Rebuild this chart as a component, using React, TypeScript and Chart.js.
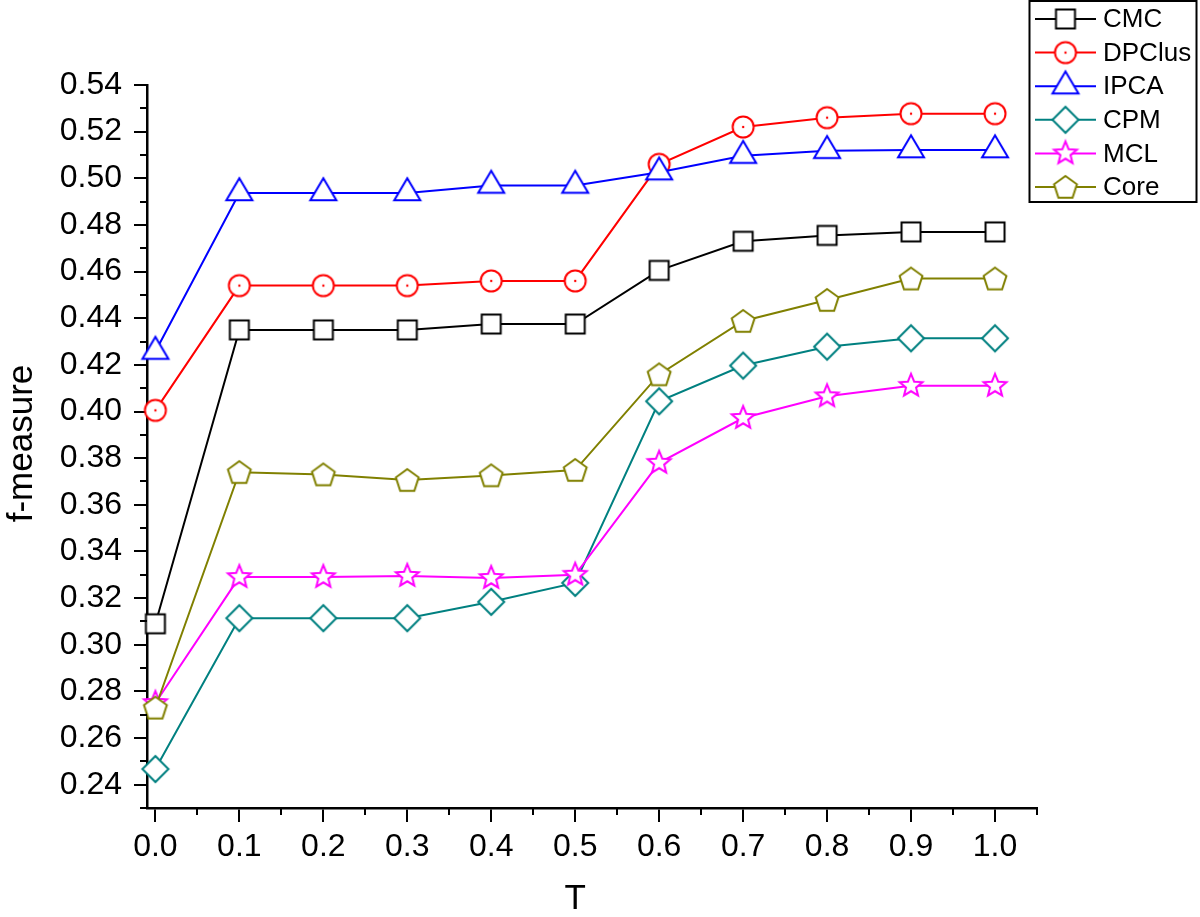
import React, { useEffect, useRef } from 'react';
import { Chart, registerables } from 'chart.js';

Chart.register(...registerables);

// ---- data ----
const tValues = [0.0, 0.1, 0.2, 0.3, 0.4, 0.5, 0.6, 0.7, 0.8, 0.9, 1.0];
const seriesNames = ['CMC', 'DPClus', 'IPCA', 'CPM', 'MCL', 'Core'];
const cmcValues = [0.309, 0.435, 0.435, 0.435, 0.4375, 0.4375, 0.4605, 0.473, 0.4755, 0.477, 0.477];
const dpclusValues = [0.4005, 0.454, 0.454, 0.454, 0.456, 0.456, 0.506, 0.522, 0.526, 0.5277, 0.5277];
const ipcaValues = [0.4257, 0.4937, 0.4937, 0.4937, 0.4969, 0.4969, 0.5026, 0.5097, 0.5118, 0.5121, 0.5121];
const cpmValues = [0.2467, 0.3114, 0.3114, 0.3114, 0.3184, 0.3265, 0.4044, 0.4197, 0.4278, 0.4314, 0.4314];
const mclValues = [0.275, 0.329, 0.329, 0.3295, 0.3286, 0.33, 0.378, 0.3972, 0.4065, 0.411, 0.411];
const coreValues = [0.273, 0.374, 0.373, 0.3706, 0.3726, 0.3749, 0.4159, 0.4388, 0.4478, 0.457, 0.457];
const xTickValues = [0.0, 0.1, 0.2, 0.3, 0.4, 0.5, 0.6, 0.7, 0.8, 0.9, 1.0];
const yTickValues = [0.24, 0.26, 0.28, 0.3, 0.32, 0.34, 0.36, 0.38, 0.4, 0.42, 0.44, 0.46, 0.48, 0.5, 0.52, 0.54];
const xMinorTicks = [0.05, 0.15, 0.25, 0.35, 0.45, 0.55, 0.65, 0.75, 0.85, 0.95, 1.05];
const yMinorTicks = [0.23, 0.25, 0.27, 0.29, 0.31, 0.33, 0.35, 0.37, 0.39, 0.41, 0.43, 0.45, 0.47, 0.49, 0.51, 0.53];
const xAxisTitle = 'T';
const yAxisTitle = 'f-measure';

const allSeries = [cmcValues, dpclusValues, ipcaValues, cpmValues, mclValues, coreValues];
const colors = ['#000000', '#FF0000', '#0000FF', '#008080', '#FF00FF', '#808000'];
const shapes = ['square', 'circleDot', 'triangle', 'diamond', 'star', 'pentagon'];

const FONT = "'Liberation Sans', Arial, Helvetica, sans-serif";

function makeMarker(shape: string, color: string): HTMLCanvasElement {
  const S = 36;
  const c = document.createElement('canvas');
  c.width = S;
  c.height = S;
  const ctx = c.getContext('2d')!;
  const cx = S / 2;
  const cy = S / 2;
  ctx.lineWidth = 2;
  ctx.strokeStyle = color;
  ctx.fillStyle = '#ffffff';
  ctx.lineJoin = 'miter';
  ctx.beginPath();
  if (shape === 'square') {
    ctx.rect(cx - 9.5, cy - 9.5, 19, 19);
  } else if (shape === 'circleDot') {
    ctx.arc(cx, cy, 10.5, 0, Math.PI * 2);
  } else if (shape === 'triangle') {
    const h = 22;
    const w = 26;
    ctx.moveTo(cx, cy - (2 * h) / 3);
    ctx.lineTo(cx + w / 2, cy + h / 3);
    ctx.lineTo(cx - w / 2, cy + h / 3);
    ctx.closePath();
  } else if (shape === 'diamond') {
    const r = 13;
    ctx.moveTo(cx, cy - r);
    ctx.lineTo(cx + r, cy);
    ctx.lineTo(cx, cy + r);
    ctx.lineTo(cx - r, cy);
    ctx.closePath();
  } else if (shape === 'star') {
    const R = 12;
    const r = 5.3;
    for (let i = 0; i < 10; i++) {
      const rad = i % 2 === 0 ? R : r;
      const a = -Math.PI / 2 + (i * Math.PI) / 5;
      const px = cx + rad * Math.cos(a);
      const py = cy + rad * Math.sin(a);
      if (i === 0) ctx.moveTo(px, py);
      else ctx.lineTo(px, py);
    }
    ctx.closePath();
  } else if (shape === 'pentagon') {
    const R = 12;
    for (let i = 0; i < 5; i++) {
      const a = -Math.PI / 2 + (i * 2 * Math.PI) / 5;
      const px = cx + R * Math.cos(a);
      const py = cy + R * Math.sin(a) + 1;
      if (i === 0) ctx.moveTo(px, py);
      else ctx.lineTo(px, py);
    }
    ctx.closePath();
  }
  ctx.fill();
  ctx.stroke();
  if (shape === 'circleDot') {
    ctx.beginPath();
    ctx.fillStyle = color;
    ctx.arc(cx, cy, 1.2, 0, Math.PI * 2);
    ctx.fill();
  }
  return c;
}

export default function App() {
  const canvasRef = useRef<HTMLCanvasElement | null>(null);

  useEffect(() => {
    const canvas = canvasRef.current;
    if (!canvas) return;
    const markers = shapes.map((s, i) => makeMarker(s, colors[i]));

    const decorPlugin = {
      id: 'decor',
      afterDraw(chart: any) {
        const ctx = chart.ctx as CanvasRenderingContext2D;
        const xs = chart.scales.x;
        const ys = chart.scales.y;
        const area = chart.chartArea;
        ctx.save();
        // minor ticks
        ctx.strokeStyle = '#000';
        ctx.lineWidth = 2;
        ctx.beginPath();
        for (const v of yMinorTicks) {
          const py = Math.round(ys.getPixelForValue(v));
          ctx.moveTo(area.left, py);
          ctx.lineTo(area.left - 7, py);
        }
        for (const v of xMinorTicks) {
          const px = Math.round(xs.getPixelForValue(v));
          ctx.moveTo(px, area.bottom);
          ctx.lineTo(px, area.bottom + 7);
        }
        ctx.stroke();

        // axis titles
        ctx.fillStyle = '#000';
        ctx.font = `35px ${FONT}`;
        ctx.textAlign = 'center';
        ctx.textBaseline = 'alphabetic';
        ctx.fillText(xAxisTitle, xs.getPixelForValue(0.5), 909);
        ctx.save();
        ctx.translate(32, (area.top + area.bottom) / 2 - 3);
        ctx.rotate(-Math.PI / 2);
        ctx.fillText(yAxisTitle, 0, 0);
        ctx.restore();

        // legend
        ctx.lineWidth = 2;
        ctx.strokeStyle = '#000';
        ctx.strokeRect(1029.5, 1, 167, 201);
        ctx.font = `26px ${FONT}`;
        ctx.textAlign = 'left';
        ctx.textBaseline = 'middle';
        for (let i = 0; i < seriesNames.length; i++) {
          const y = 19 + i * 33.6;
          ctx.strokeStyle = colors[i];
          ctx.beginPath();
          ctx.moveTo(1035, y);
          ctx.lineTo(1096, y);
          ctx.stroke();
          ctx.drawImage(markers[i], 1065.5 - 18, y - 18);
          ctx.fillStyle = '#000';
          ctx.fillText(seriesNames[i], 1103, y + 1);
        }
        ctx.restore();
      },
    };

    const chart = new Chart(canvas, {
      type: 'line',
      data: {
        datasets: allSeries.map((vals, i) => ({
          label: seriesNames[i],
          data: vals.map((v, j) => ({ x: tValues[j], y: v })),
          borderColor: colors[i],
          backgroundColor: '#ffffff',
          borderWidth: 2,
          pointStyle: markers[i] as any,
          pointRadius: 12,
          pointHoverRadius: 12,
          tension: 0,
          order: seriesNames.length - 1 - i,
          clip: false as any,
        })),
      },
      options: {
        responsive: false,
        animation: false,
        events: [],
        devicePixelRatio: 1,
        layout: { padding: { left: 0, top: 85, right: 163, bottom: 0 } },
        plugins: {
          legend: { display: false },
          tooltip: { enabled: false },
          title: { display: false },
        },
        scales: {
          x: {
            type: 'linear',
            min: -0.01,
            max: 1.05,
            afterBuildTicks: (scale: any) => {
              scale.ticks = xTickValues.map((v) => ({ value: v }));
            },
            afterFit: (scale: any) => {
              scale.height = 109;
            },
            grid: {
              display: true,
              drawOnChartArea: false,
              drawTicks: true,
              tickLength: 14,
              lineWidth: 2,
              color: '#000',
            },
            border: { display: true, color: '#000', width: 2.5 },
            ticks: {
              padding: 6,
              color: '#000',
              font: { family: FONT, size: 32 },
              maxRotation: 0,
              autoSkip: false,
              callback: (v: any) => Number(v).toFixed(1),
            },
          },
          y: {
            type: 'linear',
            min: 0.23,
            max: 0.54,
            afterBuildTicks: (scale: any) => {
              scale.ticks = yTickValues.map((v) => ({ value: v }));
            },
            afterFit: (scale: any) => {
              scale.width = 147;
            },
            grid: {
              display: true,
              drawOnChartArea: false,
              drawTicks: true,
              tickLength: 13,
              lineWidth: 2,
              color: '#000',
            },
            border: { display: true, color: '#000', width: 2.5 },
            ticks: {
              padding: 12,
              color: '#000',
              font: { family: FONT, size: 32 },
              autoSkip: false,
              callback: (v: any) => Number(v).toFixed(2),
            },
          },
        },
      },
      plugins: [decorPlugin],
    });

    return () => {
      chart.destroy();
    };
  }, []);

  return (
    <div style={{ position: 'fixed', left: 0, top: 0, width: 1200, height: 917, background: '#fff' }}>
      <canvas ref={canvasRef} width={1200} height={917} style={{ display: 'block', width: 1200, height: 917 }} />
    </div>
  );
}
